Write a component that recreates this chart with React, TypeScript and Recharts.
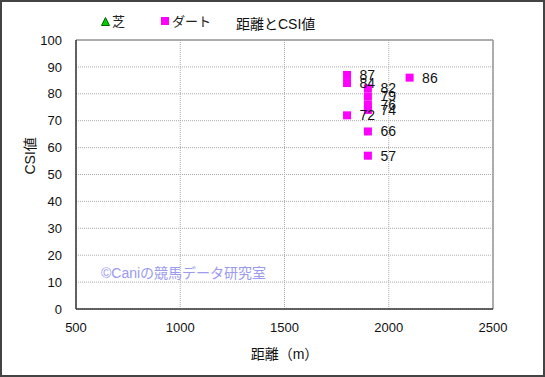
import React from 'react';
import { ScatterChart, Scatter, XAxis, YAxis, CartesianGrid, ReferenceLine, LabelList } from 'recharts';

const dartDistance = [1800, 1800, 1800, 1900, 1900, 1900, 1900, 1900, 1900, 2100];
const dartCsi = [87, 84, 72, 82, 79, 76, 74, 66, 57, 86];
const turfDistance: number[] = [];
const turfCsi: number[] = [];
const xTicks = [500, 1000, 1500, 2000, 2500];
const yTicks = [0, 10, 20, 30, 40, 50, 60, 70, 80, 90, 100];

const dartData = dartDistance.map((d, i) => ({ distance: d, csi: dartCsi[i] }));
const turfData = turfDistance.map((d, i) => ({ distance: d, csi: turfCsi[i] }));

const FONT = '"Liberation Sans", "Noto Sans CJK JP", sans-serif';

const Square = (props: any) => {
    const { cx, cy } = props;
    return <rect x={cx - 4} y={cy - 4} width={8} height={8} fill="#ff00ff" />;
};

const Triangle = (props: any) => {
    const { cx, cy } = props;
    return <polygon points={`${cx},${cy - 4} ${cx - 4},${cy + 4} ${cx + 4},${cy + 4}`} fill="#00cc00" stroke="#006600" />;
};

const PointLabel = (props: any) => {
    const { x, y, width, height, value } = props;
    return (
        <text x={x + width + 8} y={y + height / 2 + 5} fontSize={14} fill="#111" fontFamily={FONT}>
            {value}
        </text>
    );
};

export default function App() {
    return (
        <div style={{ position: 'absolute', left: 0, top: 0, width: 545, height: 377, background: '#fff' }}>
            <ScatterChart width={545} height={377} margin={{ top: 40, right: 52, left: 0, bottom: 0 }}>
                <CartesianGrid stroke="#aaa" strokeDasharray="1 1" />
                <XAxis
                    type="number"
                    dataKey="distance"
                    domain={[500, 2500]}
                    ticks={xTicks}
                    height={68}
                    tickLine={false}
                    tickMargin={8}
                    axisLine={{ stroke: '#333', strokeWidth: 1.5 }}
                    tick={{ fontSize: 13, fill: '#111', fontFamily: FONT }}
                    label={{ value: '距離（m）', position: 'insideBottom', offset: 18, fontSize: 14, fill: '#111', fontFamily: FONT }}
                />
                <YAxis
                    type="number"
                    dataKey="csi"
                    domain={[0, 100]}
                    ticks={yTicks}
                    width={76}
                    tickLine={false}
                    tickMargin={8}
                    axisLine={{ stroke: '#333', strokeWidth: 1.5 }}
                    tick={{ fontSize: 13, fill: '#111', fontFamily: FONT }}
                    label={{ value: 'CSI値', angle: -90, position: 'insideLeft', offset: 30, fontSize: 14, fill: '#111', fontFamily: FONT }}
                />
                <ReferenceLine y={100} stroke="#999" strokeWidth={1.5} />
                <ReferenceLine x={2500} stroke="#999" strokeWidth={1.5} />
                <Scatter name="芝" data={turfData} shape={Triangle} isAnimationActive={false} />
                <Scatter name="ダート" data={dartData} shape={Square} isAnimationActive={false}>
                    <LabelList dataKey="csi" content={PointLabel} />
                </Scatter>
            </ScatterChart>
            <div style={{ position: 'absolute', left: 101, top: 11, display: 'flex', fontFamily: FONT, fontSize: 13, color: '#222' }}>
                <span style={{ marginRight: 36 }}>
                    <svg width={9} height={9} style={{ marginRight: 2 }}>
                        <polygon points="4.5,0.5 0.5,8.5 8.5,8.5" fill="#00cc00" stroke="#006600" />
                    </svg>
                    芝
                </span>
                <span>
                    <svg width={9} height={9} style={{ marginRight: 2 }}>
                        <rect x={0} y={0} width={8} height={8} fill="#ff00ff" />
                    </svg>
                    ダート
                </span>
            </div>
            <div style={{ position: 'absolute', left: 236, top: 13, fontFamily: FONT, fontSize: 14, color: '#111' }}>距離とCSI値</div>
            <div style={{ position: 'absolute', left: 101, top: 262, fontFamily: FONT, fontSize: 14, color: '#9a9af0' }}>©Caniの競馬データ研究室</div>
            <div style={{ position: 'absolute', left: 0, top: 0, width: 545, height: 377, boxSizing: 'border-box', border: '2px solid #444', pointerEvents: 'none' }} />
        </div>
    );
}
